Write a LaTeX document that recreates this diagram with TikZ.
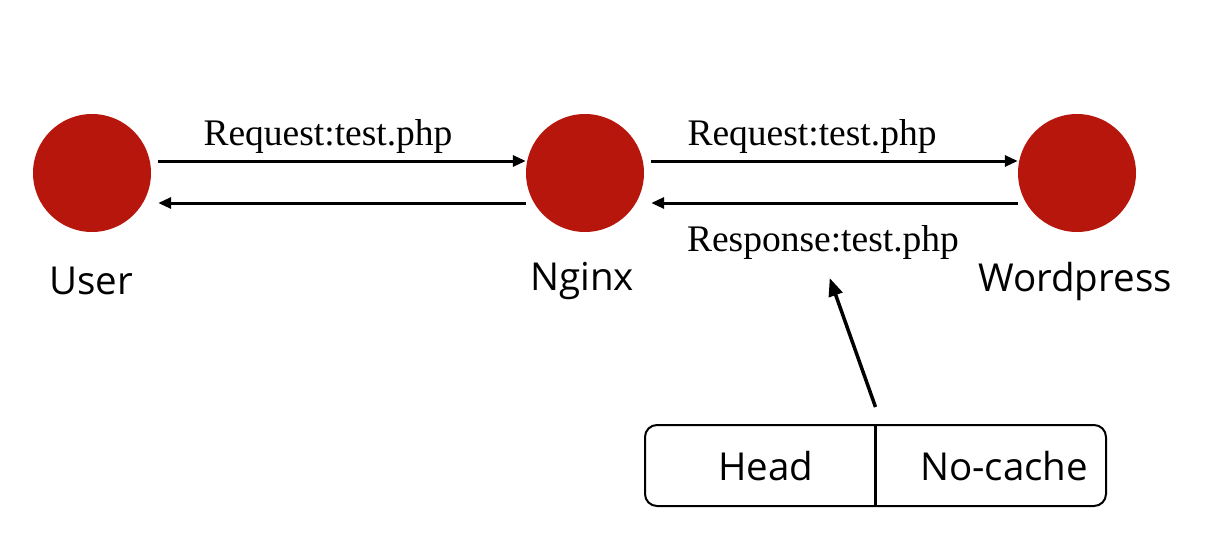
\documentclass[tikz,border=0pt]{standalone}
\usepackage{fontspec}
\setmainfont{Liberation Serif}
\newfontfamily\labelfont{Open Sans}
\usetikzlibrary{arrows.meta}
\definecolor{nodered}{RGB}{183,22,12}
\begin{document}
\begin{tikzpicture}[x=1pt,y=-1pt,
  host/.style={circle,fill=nodered,minimum size=118pt,inner sep=0pt},
  msg/.style={font=\fontsize{37.5}{44}\selectfont,inner sep=0pt},
  hostlabel/.style={font=\labelfont\fontsize{38.5}{44}\selectfont,inner sep=0pt},
  arr/.style={line width=3pt,-{Triangle[length=13pt,width=11pt]}},
  bigarr/.style={line width=3.5pt,-{Triangle[length=18pt,width=14pt]}}]
\useasboundingbox (0,0) rectangle (1211,536);
\node[host] (u) at (92,173) {};
\node[host] (n) at (585,173) {};
\node[host] (w) at (1077,173) {};
\node[hostlabel] (ul) at (91,281) {User};
\node[hostlabel] (nl) at (582,281) {Nginx};
\node[hostlabel] (wl) at (1075,281) {Wordpress};
\node[msg] (r1) at (328,136) {Request:test.php};
\node[msg] (r2) at (812,136) {Request:test.php};
\node[msg] (resp) at (823,242) {Response:test.php};
\draw[arr,shorten <=7pt] ([yshift=12pt]u.east) -- ([yshift=12pt]n.west);
\draw[arr,shorten >=7pt] ([yshift=-30pt]n.west) -- ([yshift=-30pt]u.east);
\draw[arr,shorten <=7pt] ([yshift=12pt]n.east) -- ([yshift=12pt]w.west);
\draw[arr,shorten >=7pt] ([yshift=-30pt]w.west) -- ([yshift=-30pt]n.east);
\node[draw,line width=2pt,rounded corners=12pt,minimum width=461pt,minimum height=81pt,inner sep=0pt] (box) at (875.5,465.5) {};
\draw[line width=2.5pt] (box.north) -- (box.south);
\node[hostlabel] (hd) at (766,466) {Head};
\node[hostlabel] (nc) at (1004,466) {No-cache};
\coordinate (src) at ([yshift=17pt]box.north);
\draw[bigarr,shorten >=20pt] (src) -- (resp.south);
\end{tikzpicture}
\end{document}
